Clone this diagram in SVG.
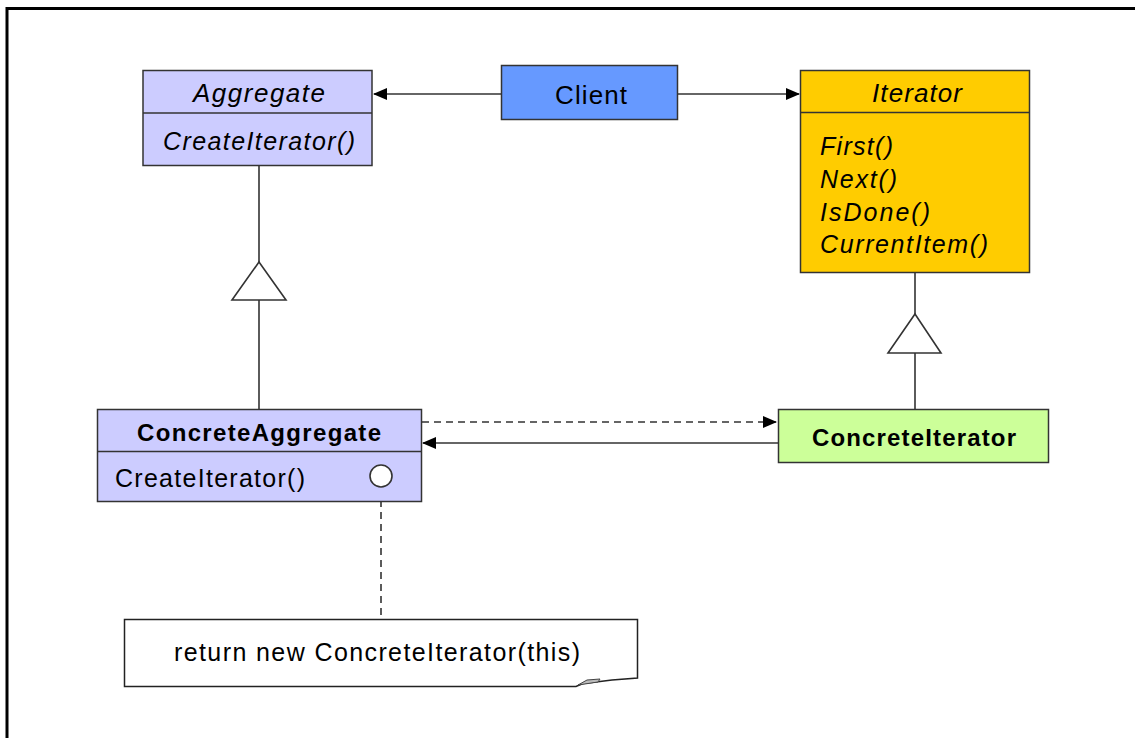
<svg xmlns="http://www.w3.org/2000/svg" width="1135" height="738" viewBox="0 0 1135 738">
<style>
.box{stroke:#333;stroke-width:1.5}
.t{font-family:"Liberation Sans",Arial,sans-serif;fill:#000;font-size:25px}
.h{font-size:26px}
.b{font-weight:bold;font-size:24px}
.i{font-style:italic}
.line{stroke:#333;stroke-width:1.6;fill:none}
.dash{stroke:#333;stroke-width:1.6;fill:none;stroke-dasharray:7,5}
</style>
<defs>
<marker id="ah" markerWidth="14" markerHeight="12" refX="13" refY="6" orient="auto" markerUnits="userSpaceOnUse">
<path d="M0,0 L14,6 L0,12 Z" fill="#000"/>
</marker>
</defs>
<rect width="1135" height="738" fill="#fff"/>
<path d="M7,738 V8.5 H1135" fill="none" stroke="#000" stroke-width="3"/>

<g id="connectors">
<line class="line" x1="501" y1="94" x2="374" y2="94" marker-end="url(#ah)"/>
<line class="line" x1="677" y1="94" x2="799" y2="94" marker-end="url(#ah)"/>
<line class="line" x1="259" y1="165" x2="259" y2="262"/>
<polygon points="259,262 286,300 232,300" fill="#fff" stroke="#333" stroke-width="1.6"/>
<line class="line" x1="259" y1="300" x2="259" y2="409"/>
<line class="line" x1="915" y1="273" x2="915" y2="314"/>
<polygon points="915,314 941,353 888,353" fill="#fff" stroke="#333" stroke-width="1.6"/>
<line class="line" x1="915" y1="353" x2="915" y2="409"/>
<line class="dash" x1="422" y1="422" x2="776" y2="422" marker-end="url(#ah)"/>
<line class="line" x1="778" y1="443" x2="423" y2="443" marker-end="url(#ah)"/>
<line class="dash" x1="381" y1="488" x2="381" y2="619"/>
</g>

<g id="aggregate">
<rect class="box" x="143" y="70.5" width="229" height="95" fill="#ccccff"/>
<line class="box" x1="143" y1="113" x2="372" y2="113"/>
<text class="t h i" x="193" y="102" textLength="132" lengthAdjust="spacing">Aggregate</text>
<text class="t i" x="163" y="150" textLength="192" lengthAdjust="spacing">CreateIterator()</text>
</g>

<g id="client">
<rect class="box" x="501.5" y="65.5" width="176" height="54" fill="#6699ff"/>
<text class="t h" x="555" y="104" textLength="72" lengthAdjust="spacing">Client</text>
</g>

<g id="iterator">
<rect class="box" x="800.5" y="70.5" width="229" height="202" fill="#ffcc00"/>
<line class="box" x1="800.5" y1="112.5" x2="1029.5" y2="112.5"/>
<text class="t h i" x="872" y="102" textLength="90" lengthAdjust="spacing">Iterator</text>
<text class="t i" x="820" y="155" textLength="73" lengthAdjust="spacing">First()</text>
<text class="t i" x="820" y="188" textLength="77" lengthAdjust="spacing">Next()</text>
<text class="t i" x="820" y="221" textLength="110" lengthAdjust="spacing">IsDone()</text>
<text class="t i" x="820" y="253" textLength="168" lengthAdjust="spacing">CurrentItem()</text>
</g>

<g id="concreteAggregate">
<rect class="box" x="97.5" y="409.5" width="324" height="92" fill="#ccccff"/>
<line class="box" x1="97.5" y1="451.5" x2="421.5" y2="451.5"/>
<text class="t b" x="137" y="441" textLength="244" lengthAdjust="spacing">ConcreteAggregate</text>
<text class="t" x="115" y="487" textLength="190" lengthAdjust="spacing">CreateIterator()</text>
<circle cx="381" cy="476" r="11" fill="#fff" stroke="#333" stroke-width="1.6"/>
</g>

<g id="concreteIterator">
<rect class="box" x="778.5" y="409.5" width="270" height="53" fill="#ccff99"/>
<text class="t b" x="812" y="446" textLength="204" lengthAdjust="spacing">ConcreteIterator</text>
</g>

<g id="note">
<path d="M124.5,619.5 H637.5 V678 L612,680 L600,681.5 L583,683.5 L576,686.5 H124.5 Z" fill="#fff" stroke="#222" stroke-width="1.5"/>
<path d="M578,685 L587,680 L600,679 L598,682 Z" fill="#bbb" stroke="#444" stroke-width="1"/>
<text class="t" x="174" y="661" textLength="406" lengthAdjust="spacing">return new ConcreteIterator(this)</text>
</g>
</svg>
